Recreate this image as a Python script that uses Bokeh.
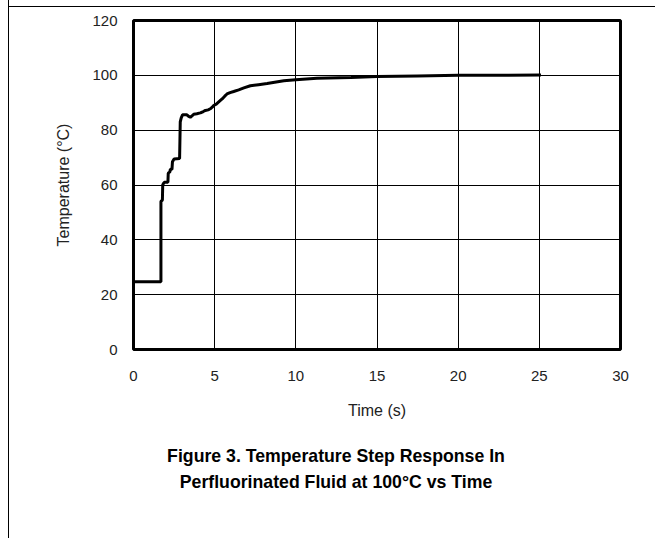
from bokeh.plotting import figure
from bokeh.models import Range1d, FixedTicker
from bokeh.layouts import column
from bokeh.embed import file_html
from bokeh.resources import INLINE

# Data (time in s, temperature in °C)
time_s = [0, 1.69, 1.69, 1.78, 1.80, 1.84, 1.90, 2.12, 2.14, 2.24, 2.27, 2.37, 2.40,
          2.50, 2.84, 2.88, 2.94, 3.02, 3.29, 3.40, 3.50, 3.62, 3.71, 3.90, 4.12,
          4.30, 4.43, 4.60, 4.73, 4.85, 4.94, 5.10, 5.25, 5.46, 5.62, 5.76, 5.95,
          6.17, 6.48, 6.80, 7.20, 7.70, 8.23, 9.26, 10.0, 11.3, 13.4, 15.0, 17.5,
          20.0, 22.5, 25.1]
temp_c = [24.7, 24.7, 54.0, 54.5, 60.0, 60.5, 61.0, 61.0, 64.3, 64.8, 65.7, 65.7, 68.5,
          69.5, 69.7, 83.0, 84.5, 85.6, 85.6, 85.0, 84.7, 85.3, 85.8, 86.0, 86.3,
          86.8, 87.2, 87.4, 87.8, 88.4, 89.0, 89.5, 90.3, 91.4, 92.4, 93.2, 93.7,
          94.1, 94.7, 95.4, 96.2, 96.6, 97.0, 98.0, 98.4, 98.9, 99.2, 99.6, 99.8,
          100.0, 100.0, 100.1]

x_ticks = [0, 5, 10, 15, 20, 25, 30]
y_ticks = [0, 20, 40, 60, 80, 100, 120]

title_lines = ["Figure 3. Temperature Step Response In",
               "Perfluorinated Fluid at 100°C vs Time"]

FONT = "Liberation Sans"
W = 655
H_MAIN = 430
H_CAP = 108
LEFT, FRAME_W, RIGHT = 133, 487, 35
PAGE_CENTER_PX = 335.5

# page rules (thin frame lines of the datasheet page) drawn as CSS background
page_bg_main = ("linear-gradient(#000,#000) 8px 0 / 1px 100% no-repeat, "
                "linear-gradient(#000,#000) 8px 6px / 100% 1px no-repeat, #fff")
page_bg_cap = "linear-gradient(#000,#000) 8px 0 / 1px 100% no-repeat, #fff"

x_rng = Range1d(0, 30)
p = figure(width=W, height=H_MAIN, frame_width=FRAME_W, frame_height=329,
           min_border_left=LEFT, min_border_right=RIGHT,
           min_border_top=20, min_border_bottom=81,
           x_range=x_rng, y_range=Range1d(0, 120),
           output_backend="svg", toolbar_location=None,
           background_fill_color="white", border_fill_color=None,
           styles={"background": page_bg_main})

p.outline_line_color = "black"
p.outline_line_width = 3

p.xaxis.ticker = FixedTicker(ticks=x_ticks)
p.yaxis.ticker = FixedTicker(ticks=y_ticks)
p.xgrid.ticker = FixedTicker(ticks=x_ticks)
p.ygrid.ticker = FixedTicker(ticks=y_ticks)
for g in (p.xgrid, p.ygrid):
    g.grid_line_color = "black"
    g.grid_line_width = 1

for ax in (p.xaxis, p.yaxis):
    ax.axis_line_color = None
    ax.major_tick_line_color = None
    ax.minor_tick_line_color = None
    ax.major_label_text_font = FONT
    ax.major_label_text_font_size = "15px"
    ax.major_label_text_color = "#222"
    ax.axis_label_text_font = FONT
    ax.axis_label_text_font_size = "16px"
    ax.axis_label_text_font_style = "normal"
    ax.axis_label_text_color = "#222"

p.xaxis.axis_label = "Time (s)"
p.yaxis.axis_label = "Temperature (°C)"
p.xaxis.major_label_standoff = 15
p.yaxis.major_label_standoff = 10
p.xaxis.axis_label_standoff = 18
p.yaxis.axis_label_standoff = 17

p.line(time_s, temp_c, line_color="black", line_width=3)

# Caption panel: its frame lines up with the main frame, so use the same x scale
cap = figure(width=W, height=H_CAP, frame_width=FRAME_W, frame_height=H_CAP,
             x_range=x_rng, y_range=Range1d(0, H_CAP),
             min_border_left=LEFT, min_border_right=RIGHT,
             min_border_top=0, min_border_bottom=0,
             output_backend="svg", toolbar_location=None,
             background_fill_color=None, border_fill_color=None,
             outline_line_color=None,
             styles={"background": page_bg_cap})
cap.axis.visible = False
cap.grid.visible = False
cap_center = (PAGE_CENTER_PX - LEFT) * 30 / FRAME_W
cap_x = [cap_center, cap_center]
cap_y = [83, 57]
cap.text(x=cap_x, y=cap_y, text=title_lines, text_align="center",
         text_baseline="middle", text_font={"value": FONT}, text_font_size="17.7px",
         text_font_style="bold", text_color="black")

layout = column(p, cap, spacing=0)
open("out.html", "w").write(file_html(layout, INLINE))
